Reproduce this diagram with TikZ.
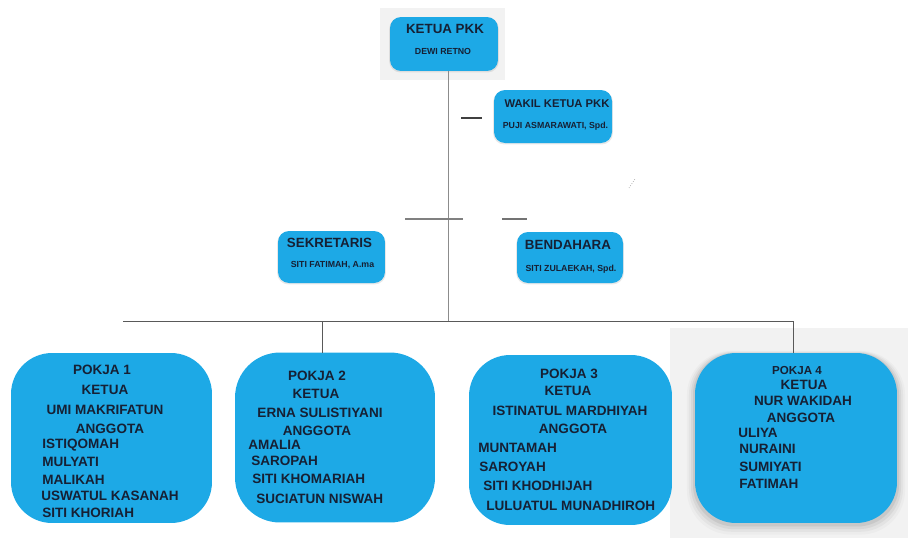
\documentclass[tikz,border=0pt]{standalone}
\usepackage{fontspec}
\setmainfont{Liberation Sans}
\usepackage{tikz}
\usetikzlibrary{positioning, shadows, backgrounds}
\definecolor{pkkblue}{RGB}{29,169,230}
\definecolor{ink}{RGB}{22,32,52}
\definecolor{paper}{RGB}{242,242,242}

\tikzset{
  box/.style={rectangle, fill=pkkblue, inner sep=0pt, outer sep=0pt, rounded corners=0.22cm},
  softshadow/.style={drop shadow={opacity=0.18, shadow xshift=0pt, shadow yshift=-0.6pt, shadow scale=1.015}},
  pokjabox/.style={box, rounded corners=0.82cm, minimum width=4.02cm, minimum height=3.4cm},
  glow/.style={drop shadow={opacity=0.16, shadow xshift=0pt, shadow yshift=-1pt, shadow scale=1.02},
               drop shadow={opacity=0.12, shadow xshift=0pt, shadow yshift=-1.5pt, shadow scale=1.04},
               drop shadow={opacity=0.08, shadow xshift=0pt, shadow yshift=-2pt, shadow scale=1.06},
               drop shadow={opacity=0.05, shadow xshift=0pt, shadow yshift=-2.5pt, shadow scale=1.08}},
  txt/.style={text=ink, inner sep=0pt, anchor=mid, font=\bfseries\fontsize{7.7}{9}\selectfont},
  mem/.style={txt, anchor=mid west},
  title/.style={txt, font=\bfseries\fontsize{7.6}{9}\selectfont},
  sub/.style={txt, font=\bfseries\fontsize{5}{6}\selectfont},
  link/.style={draw=black!65, line width=0.5pt}
}

\begin{document}
\begin{tikzpicture}[x=0.02cm, y=-0.02cm]
  \useasboundingbox (0,0) rectangle (908,538);

  % Backdrops
  \fill[paper] (380,8) rectangle (505,80);
  \fill[paper] (670,328) rectangle (908,538);

  % Pengurus inti
  \node[box, softshadow, minimum width=2.16cm, minimum height=1.08cm] (ketua) at (444,44) {};
  \node[box, softshadow, minimum width=2.36cm, minimum height=1.06cm] (wakil) at (553,116.5) {};
  \node[box, softshadow, minimum width=2.14cm, minimum height=1.04cm] (sekre) at (331.5,257) {};
  \node[box, softshadow, minimum width=2.12cm, minimum height=1.02cm] (benda) at (570,257.5) {};

  \node[title] (ketuaA) at (445,29) {KETUA PKK};
  \node[sub] (ketuaB) at (443,50) {DEWI RETNO};
  \node[title, font=\bfseries\fontsize{6.4}{8}\selectfont] (wakilA) at (557,103) {WAKIL KETUA PKK};
  \node[sub] (wakilB) at (555.5,124) {PUJI ASMARAWATI, Spd.};
  \node[title] (sekreA) at (329.5,243) {SEKRETARIS};
  \node[sub] (sekreB) at (332.5,263) {SITI FATIMAH, A.ma};
  \node[title] (bendaA) at (568,245) {BENDAHARA};
  \node[sub] (bendaB) at (571,267) {SITI ZULAEKAH, Spd.};

  % Pokja
  \node[pokjabox] (pokja1) at (111.5,438) {};
  \node[pokjabox, minimum width=4cm, rounded corners=0.9cm] (pokja2) at (335,437.5) {};
  \node[pokjabox, minimum width=4.06cm] (pokja3) at (570.5,440) {};
  \node[pokjabox, glow, minimum width=4.04cm] (pokja4) at (796,438) {};

  % Lines
  \coordinate (barL) at (123,321);
  \coordinate (barR) at (793,321);
  \coordinate (trunk) at (448,321);
  \coordinate (drop2) at (322,321);
  \draw[link, draw=black!45] (ketua.south -| trunk) -- (trunk);
  \draw[link] (barL) -- (barR);
  \draw[link] (drop2) -- (drop2 |- pokja2.north);
  \draw[link] (barR) -- (barR |- pokja4.north);

  % stray marks
  \draw[black!75, line width=0.8pt] (461,118) -- (482,118);
  \draw[black!50, line width=0.8pt] (405,219) -- (463,219);
  \draw[black!55, line width=0.8pt] (502,219) -- (527,219);
  \draw[black!35, densely dotted] (629,188) -- (635,179);

  % Pokja 1
  \node[txt] (p1a) at (102,370) {POKJA 1};
  \node[txt] (p1b) at (105,390) {KETUA};
  \node[txt] (p1c) at (105,410) {UMI MAKRIFATUN};
  \node[txt] (p1d) at (110,429) {ANGGOTA};
  \node[mem] (p1e) at (42,444) {ISTIQOMAH};
  \node[mem] (p1f) at (42,462) {MULYATI};
  \node[mem] (p1g) at (42,480) {MALIKAH};
  \node[mem] (p1h) at (41,496) {USWATUL KASANAH};
  \node[mem] (p1i) at (42,513) {SITI KHORIAH};

  % Pokja 2
  \node[txt] (p2a) at (317,376) {POKJA 2};
  \node[txt] (p2b) at (316,394) {KETUA};
  \node[txt] (p2c) at (320,413) {ERNA SULISTIYANI};
  \node[txt] (p2d) at (317,431) {ANGGOTA};
  \node[mem] (p2e) at (248,445) {AMALIA};
  \node[mem] (p2f) at (251,461) {SAROPAH};
  \node[mem] (p2g) at (252,479) {SITI KHOMARIAH};
  \node[mem] (p2h) at (256,499) {SUCIATUN NISWAH};

  % Pokja 3
  \node[txt] (p3a) at (569,374) {POKJA 3};
  \node[txt] (p3b) at (568,391) {KETUA};
  \node[txt] (p3c) at (570,411) {ISTINATUL MARDHIYAH};
  \node[txt] (p3d) at (573,429) {ANGGOTA};
  \node[mem] (p3e) at (478,448) {MUNTAMAH};
  \node[mem] (p3f) at (479,467) {SAROYAH};
  \node[mem] (p3g) at (483,486) {SITI KHODHIJAH};
  \node[mem] (p3h) at (486,506) {LULUATUL MUNADHIROH};

  % Pokja 4
  \node[txt, font=\bfseries\fontsize{6.6}{8}\selectfont] (p4a) at (797,370) {POKJA 4};
  \node[txt] (p4b) at (804,385) {KETUA};
  \node[txt] (p4c) at (803,401) {NUR WAKIDAH};
  \node[txt] (p4d) at (801,418) {ANGGOTA};
  \node[mem] (p4e) at (738,433) {ULIYA};
  \node[mem] (p4f) at (739,449) {NURAINI};
  \node[mem] (p4g) at (739,467) {SUMIYATI};
  \node[mem] (p4h) at (739,484) {FATIMAH};
\end{tikzpicture}
\end{document}
